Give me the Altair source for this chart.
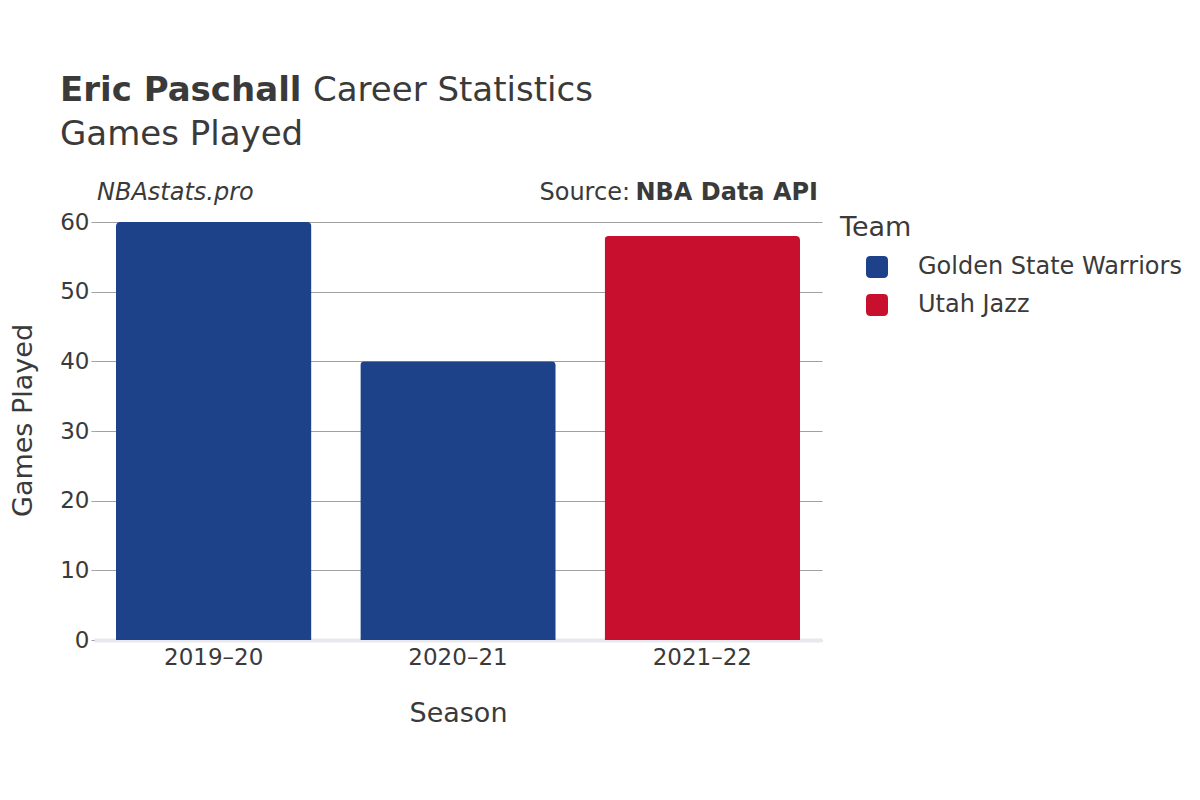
import altair as alt
import pandas as pd

seasons = ["2019–20", "2020–21", "2021–22"]
games = [60, 40, 58]
teams = ["Golden State Warriors", "Golden State Warriors", "Utah Jazz"]
team_names = ["Golden State Warriors", "Utah Jazz"]
team_colors = ["#1D428A", "#C8102E"]
y_ticks = [0, 10, 20, 30, 40, 50, 60]

df = pd.DataFrame({"Season": seasons, "Games Played": games, "Team": teams})

FONT = "DejaVu Sans"
TXT = "#3a3a3a"

rounded = "M -0.6 -1 L 0.6 -1 Q 1 -1 1 -0.6 L 1 0.6 Q 1 1 0.6 1 L -0.6 1 Q -1 1 -1 0.6 L -1 -0.6 Q -1 -1 -0.6 -1 Z"

bars = alt.Chart(df).mark_bar(cornerRadiusTopLeft=4, cornerRadiusTopRight=4).encode(
    x=alt.X("Season:N", sort=seasons,
            scale=alt.Scale(paddingInner=0.2, paddingOuter=0.09),
            axis=alt.Axis(title="Season", labelAngle=0, labelFontSize=23, titleFontSize=27,
                          labelPadding=6, titlePadding=31, ticks=False,
                          domainColor="#e8e8ee", domainWidth=4, labelColor=TXT, titleColor=TXT,
                          titleFontWeight="normal")),
    y=alt.Y("Games Played:Q", scale=alt.Scale(domain=[0, 60], nice=False),
            axis=alt.Axis(title="Games Played", values=y_ticks, labelFontSize=23, titleFontSize=27,
                          gridColor="#a0a0a0", gridWidth=1, domain=False, tickColor="#a0a0a0",
                          tickSize=3, labelPadding=2, titlePadding=22, titleY=198,
                          labelColor=TXT, titleColor=TXT, titleFontWeight="normal")),
    color=alt.Color("Team:N", scale=alt.Scale(domain=team_names, range=team_colors),
                    legend=alt.Legend(title="Team", orient="none", legendX=746, legendY=-7,
                                      titleFontSize=27, labelFontSize=24, symbolType=rounded,
                                      symbolSize=484, symbolStrokeWidth=0, symbolOffset=25,
                                      labelOffset=29, rowPadding=14, titlePadding=13, labelLimit=400,
                                      titleFontWeight="normal", labelColor=TXT, titleColor=TXT)),
)

def txt(s, x, y, size, weight="normal", style="normal", align="left"):
    return alt.Chart(alt.Data(values=[{}])).mark_text(
        text=s, fontSize=size, fontWeight=weight, fontStyle=style, align=align,
        baseline="alphabetic", color=TXT, font=FONT
    ).encode(x=alt.value(x), y=alt.value(y))

texts = [
    txt("Eric Paschall", -34, -121, 34, weight="bold"),
    txt("Career Statistics", 219, -121, 34),
    txt("Games Played", -34, -77, 34),
    txt("NBAstats.pro", 3, -22, 24, style="italic"),
    txt("NBA Data API", 724, -22, 24, weight="bold", align="right"),
    txt("Source:", 536, -22, 24, align="right"),
]

chart = alt.layer(bars, *texts).properties(
    width=728, height=418,
    autosize=alt.AutoSizeParams(type="none"),
    padding={"left": 86, "top": 214, "right": 370, "bottom": 152},
).configure(font=FONT).configure_view(stroke=None)

chart.save("out.html", embed_options={"renderer": "svg", "actions": False})
